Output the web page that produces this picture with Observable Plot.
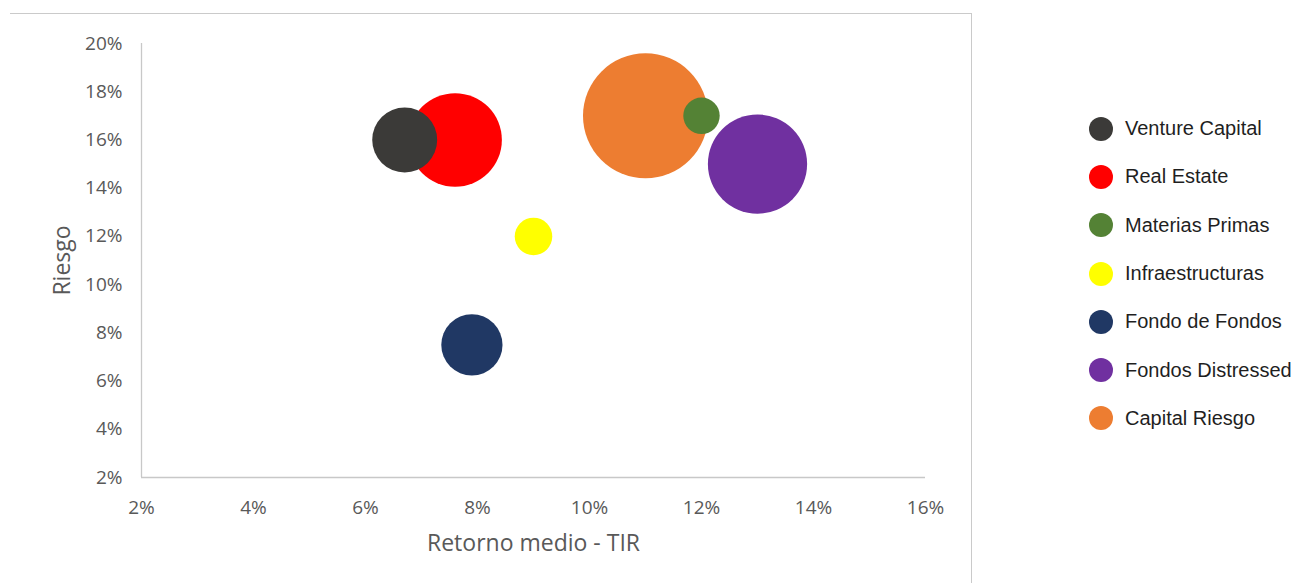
<!DOCTYPE html>
<html><head><meta charset="utf-8">
<script src="https://cdn.jsdelivr.net/npm/d3@7"></script>
<script src="https://cdn.jsdelivr.net/npm/@observablehq/plot@0.6"></script>
<style>
body{margin:0;background:#fff;}
#wrap{position:relative;width:1297px;height:583px;overflow:hidden;background:#fff;}
#chart{position:absolute;left:0;top:0;}
#frame{position:absolute;left:10px;top:13px;width:961px;height:600px;border-top:1px solid #cacaca;border-right:1px solid #cacaca;pointer-events:none;}
#legend{position:absolute;left:1089px;top:104.5px;font-family:"Liberation Sans",Arial,sans-serif;font-size:20px;color:#1f1f1f;}
.item{display:flex;align-items:center;height:48.3px;white-space:nowrap;}
.sw{width:24px;height:24px;border-radius:50%;margin-right:12px;flex:none;}
</style></head>
<body><div id="wrap"><div id="chart"></div><div id="frame"></div><div id="legend"></div></div>
<script>
const categories = ["Venture Capital","Real Estate","Materias Primas","Infraestructuras","Fondo de Fondos","Fondos Distressed","Capital Riesgo"];
const retorno = [0.067, 0.076, 0.12, 0.09, 0.079, 0.13, 0.11];
const riesgo  = [0.16, 0.16, 0.17, 0.12, 0.075, 0.15, 0.17];
const tamano  = [27, 56, 8.5, 9, 24, 63, 100];
const colores = ["#3b3a38","#ff0000","#548235","#ffff00","#203864","#7030a0","#ed7d31"];
const xTicks = [0.02, 0.04, 0.06, 0.08, 0.10, 0.12, 0.14, 0.16];
const yTicks = [0.02, 0.04, 0.06, 0.08, 0.10, 0.12, 0.14, 0.16, 0.18, 0.20];
const xTitle = "Retorno medio - TIR";
const yTitle = "Riesgo";

const rows = categories.map((c, i) => ({cat: c, x: retorno[i], y: riesgo[i], s: tamano[i], color: colores[i]}))
  .sort((a, b) => b.s - a.s);

const pct = d3.format(".0%");
const chart = Plot.plot({
  width: 1297, height: 583,
  marginLeft: 141, marginRight: 372, marginTop: 43, marginBottom: 106,
  x: {domain: [0.02, 0.16]},
  y: {domain: [0.02, 0.20]},
  r: {type: "sqrt", domain: [0, 100], range: [0, 62.5]},
  style: {fontFamily: "'Open Sans', sans-serif", fontSize: "19px", color: "#595959", background: "transparent", overflow: "visible"},
  marks: [
    Plot.ruleX([0.02], {stroke: "#c8c8c8", strokeWidth: 1.3}),
    Plot.ruleY([0.02], {stroke: "#c8c8c8", strokeWidth: 1.3}),
    Plot.axisX({ticks: xTicks, tickFormat: pct, tickSize: 0, tickPadding: 23, fontSize: 19, fill: "#595959", label: null}),
    Plot.axisY({ticks: yTicks, tickFormat: pct, tickSize: 0, tickPadding: 19, fontSize: 19, fill: "#595959", label: null}),
    Plot.dot(rows, {x: "x", y: "y", r: "s", fill: d => d.color, stroke: "none", fillOpacity: 1}),
    Plot.text([xTitle], {text: d => d, frameAnchor: "bottom", lineAnchor: "middle", textAnchor: "middle", dy: 66, fontSize: 23, fill: "#595959"}),
    Plot.text([yTitle], {text: d => d, frameAnchor: "left", lineAnchor: "middle", textAnchor: "middle", dx: -79, rotate: -90, fontSize: 23, fill: "#595959"})
  ]
});
document.getElementById("chart").appendChild(chart);

const legend = document.getElementById("legend");
categories.forEach((c, i) => {
  const item = document.createElement("div");
  item.className = "item";
  const sw = document.createElement("span");
  sw.className = "sw";
  sw.style.background = colores[i];
  const t = document.createElement("span");
  t.textContent = c;
  item.appendChild(sw);
  item.appendChild(t);
  legend.appendChild(item);
});
</script>
</body></html>
